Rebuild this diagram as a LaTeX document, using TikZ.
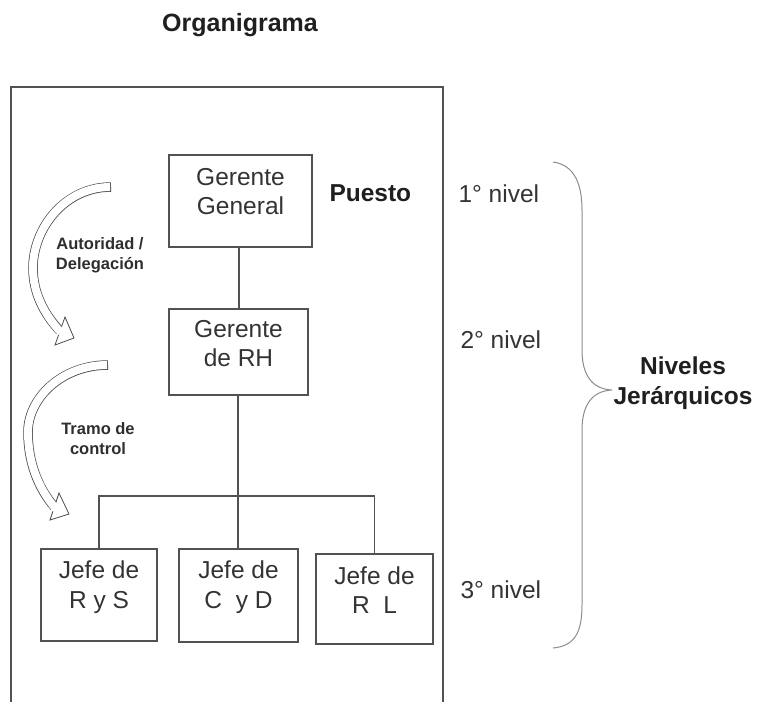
\documentclass[tikz,border=0pt]{standalone}
\usepackage{fontspec}
\setmainfont{Liberation Sans}
\begin{document}
\begin{tikzpicture}[x=1pt,y=-1pt,
  box/.style={draw=black!68, line width=1.5pt, rectangle, inner sep=0pt},
  boxtext/.style={text=black!80, align=center, font=\fontsize{24.5}{29.5}\selectfont},
  lvl/.style={text=black!80, anchor=west, font=\fontsize{24.5}{29.5}\selectfont},
  bold/.style={text=black!88, align=center, font=\fontsize{24.5}{30}\selectfont\bfseries},
  small/.style={text=black!82, align=center, font=\fontsize{16.5}{20}\selectfont\bfseries},
  link/.style={draw=black!68, line width=1.3pt},
  frame/.style={draw=black!68, line width=2pt},
  brace/.style={draw=black!45, line width=1pt},
  bandout/.style={draw=black!70, line width=9.5pt},
  bandin/.style={draw=white, line width=8pt},
  head/.style={draw=black!70, fill=white, line width=0.8pt, line join=miter}
]
\useasboundingbox (0,0) rectangle (758,702);

% title
\node[bold, font=\fontsize{25}{30}\selectfont\bfseries] (title) at (240,25) {Organigrama};

% outer frame, open at the bottom
\coordinate (fbl) at (11,702);
\coordinate (ftl) at (11,87);
\coordinate (ftr) at (443,87);
\coordinate (fbr) at (443,702);
\draw[frame] (fbl) -- (ftl) -- (ftr) -- (fbr);

% positions
\node[box, minimum width=143pt, minimum height=92pt] (gg) at (240.5,201) {};
\node[boxtext] (ggt) at ([yshift=9.5pt]gg.center) {Gerente\\General};

\node[box, minimum width=139pt, minimum height=86pt] (rh) at (238.5,352) {};
\node[boxtext] (rht) at ([yshift=8.5pt]rh.center) {Gerente\\de RH};

\node[box, minimum width=116pt, minimum height=92pt] (rys) at (99,595) {};
\node[boxtext] (rayst) at ([yshift=8pt]rys.center) {Jefe de\\R y S};

\node[box, minimum width=119pt, minimum height=93pt] (cyd) at (238.5,595.5) {};
\node[boxtext] (cydt) at ([yshift=8.5pt]cyd.center) {Jefe de\\C\ \ y D};

\node[box, minimum width=117pt, minimum height=90pt] (rl) at (374.5,599) {};
\node[boxtext] (rlt) at ([yshift=9pt]rl.center) {Jefe de\\R\ \ L};

% connectors
\coordinate (bus) at (238,496);
\draw[link] (gg.south -| 239,0) -- (rh.north -| 239,0);
\draw[link] (rh.south -| 238,0) -- (cyd.north -| 238,0);
\draw[link] (rys.north) |- (bus) -| (rl.north);

% labels
\node[bold, anchor=west] (puesto) at (326,193) {Puesto};
\node[lvl] (n1) at (455,194) {1° nivel};
\node[lvl] (n2) at (457,340) {2° nivel};
\node[lvl] (n3) at (457,590) {3° nivel};

% curly brace
\draw[brace] (553,162) .. controls (575,165) and (582,185) .. (582,210)
  -- (582,350) .. controls (582,375) and (592,389) .. (612,390)
  .. controls (592,391) and (582,405) .. (582,430)
  -- (582,605) .. controls (582,632) and (575,646) .. (553,648);
\node[bold] (niv) at (683,383) {Niveles\\Jerárquicos};

% curved hollow arrow: authority / delegation
\draw[bandout] (111,187) .. controls (65,187) and (33,228) .. (33,268)
  .. controls (33,293) and (44,314) .. (60,331);
\draw[head] (65,317) -- (74,338) -- (55,345) -- cycle;
\draw[bandin, shorten <=0.9pt] (111,187) .. controls (65,187) and (33,228) .. (33,268)
  .. controls (33,293) and (44,314) .. (61,332.5);
\node[small] (aut) at (100,255) {Autoridad /\\Delegación};

% curved hollow arrow: span of control
\draw[bandout] (108,365) .. controls (62,365) and (28,398) .. (28,432)
  .. controls (28,462) and (38,488) .. (54.5,507);
\draw[head] (59,493) -- (69,514) -- (50,520) -- cycle;
\draw[bandin, shorten <=0.9pt] (108,365) .. controls (62,365) and (28,398) .. (28,432)
  .. controls (28,462) and (38,488) .. (56,509);
\node[small] (tramo) at (98,439) {Tramo de\\control};
\end{tikzpicture}
\end{document}
